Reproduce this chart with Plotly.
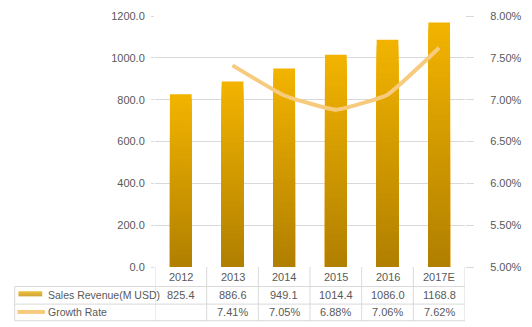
import plotly.graph_objects as go

years = ["2012", "2013", "2014", "2015", "2016", "2017E"]
revenue = [825.4, 886.6, 949.1, 1014.4, 1086.0, 1168.8]
growth = [None, 0.0741, 0.0705, 0.0688, 0.0706, 0.0762]
revenue_labels = ["825.4", "886.6", "949.1", "1014.4", "1086.0", "1168.8"]
growth_labels = ["", "7.41%", "7.05%", "6.88%", "7.06%", "7.62%"]
series_names = ["Sales Revenue(M USD)", "Growth Rate"]

W, H = 532, 327
L, R, T, B = 155, 50, 10, 60
PW, PH = W - L - R, H - T - B
FONT = "Liberation Sans"
TXT = "#595959"
GRID = "#D9D9D9"
TOP = (243, 180, 0)
BOT = (176, 127, 0)
LINE_C = "#F7CB7E"


def mix(f):
    c = [round(BOT[i] + (TOP[i] - BOT[i]) * f) for i in range(3)]
    return "rgb(%d,%d,%d)" % tuple(c)


def py(p):
    return (H - B - p) / PH


def px(p):
    return (p - L) / PW


fig = go.Figure()
N = 40
for k in range(N):
    f = (N - k) / N
    fig.add_trace(go.Bar(
        x=list(range(len(years))), y=[v * f for v in revenue],
        marker=dict(color=mix(f - 0.5 / N), line=dict(width=0)),
        width=0.42, showlegend=False, hoverinfo="skip"))

fig.add_trace(go.Scatter(
    x=list(range(len(years))), y=growth, yaxis="y2", mode="lines",
    line=dict(color=LINE_C, width=4, shape="spline", smoothing=0.35),
    showlegend=False, connectgaps=False))

shapes = []
col_edges = [i - 0.5 for i in range(len(years) + 1)]
for e in col_edges:
    shapes.append(dict(type="line", xref="x", yref="paper", x0=e, x1=e,
                       y0=py(267), y1=py(322), line=dict(color=GRID, width=1)))
for yy in [287, 305, 322]:
    shapes.append(dict(type="line", xref="paper", yref="paper", x0=px(7), x1=1,
                       y0=py(yy), y1=py(yy), line=dict(color=GRID, width=1)))
shapes.append(dict(type="line", xref="paper", yref="paper", x0=px(7), x1=px(7),
                   y0=py(287), y1=py(322), line=dict(color=GRID, width=1)))
for j in range(5):
    f = 1 - j / 5
    shapes.append(dict(type="rect", xref="paper", yref="paper", x0=px(11), x1=px(36),
                       y0=py(292 + j), y1=py(293 + j), line=dict(width=0),
                       fillcolor=mix(f * 0.6 + 0.2)))
shapes.append(dict(type="line", xref="paper", yref="paper", x0=px(10), x1=px(39),
                   y0=py(313), y1=py(313), line=dict(color=LINE_C, width=4)))

ann = []
fs = 11
for i, y in enumerate(years):
    ann.append(dict(xref="x", yref="paper", x=i, y=py(277), text=y, showarrow=False,
                    font=dict(family=FONT, size=fs, color=TXT), yanchor="middle"))
    ann.append(dict(xref="x", yref="paper", x=i, y=py(296), text=revenue_labels[i],
                    showarrow=False, font=dict(family=FONT, size=fs, color=TXT), yanchor="middle"))
    if growth_labels[i]:
        ann.append(dict(xref="x", yref="paper", x=i, y=py(313.5), text=growth_labels[i],
                        showarrow=False, font=dict(family=FONT, size=fs, color=TXT), yanchor="middle"))
ann.append(dict(xref="paper", yref="paper", x=px(40), y=py(296), text=series_names[0],
                xanchor="left", showarrow=False, font=dict(family=FONT, size=10.5, color=TXT), yanchor="middle"))
ann.append(dict(xref="paper", yref="paper", x=px(40), y=py(313.5), text=series_names[1],
                xanchor="left", showarrow=False, font=dict(family=FONT, size=10.5, color=TXT), yanchor="middle"))

fig.update_layout(
    width=W, height=H, margin=dict(l=L, r=R, t=T, b=B),
    paper_bgcolor="white", plot_bgcolor="white", barmode="overlay",
    font=dict(family=FONT, size=fs, color=TXT),
    xaxis=dict(range=[-0.5, len(years) - 0.5], showticklabels=False, showgrid=False,
               zeroline=False, showline=False, ticks=""),
    yaxis=dict(range=[0, 1200], dtick=200, tickformat=".1f", showgrid=True, gridcolor=GRID,
               zeroline=False, ticks="outside", ticklen=3, tickcolor=GRID,
               ticklabelstandoff=4,
               tickfont=dict(family=FONT, size=fs, color=TXT)),
    yaxis2=dict(range=[0.05, 0.08], dtick=0.005, tickformat=".2%", overlaying="y", side="right",
                showgrid=False, zeroline=False, ticks="outside", ticklen=8, tickcolor=GRID,
                ticklabelstandoff=14,
                tickfont=dict(family=FONT, size=fs, color=TXT)),
    shapes=shapes, annotations=ann, showlegend=False,
)

fig.write_html("out.html")
